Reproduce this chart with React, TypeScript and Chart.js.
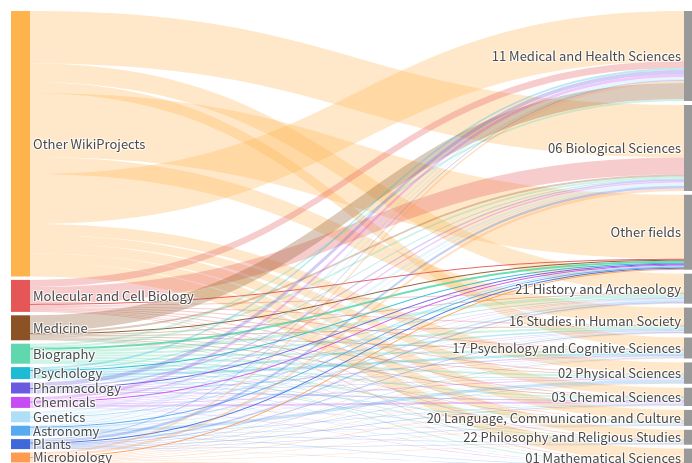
import React, { useEffect, useRef } from "react";
import { Chart, registerables } from "chart.js";

Chart.register(...registerables);

// ---------- data ----------
const SOURCE_LABELS = [
  "Other WikiProjects",
  "Molecular and Cell Biology",
  "Medicine",
  "Biography",
  "Psychology",
  "Pharmacology",
  "Chemicals",
  "Genetics",
  "Astronomy",
  "Plants",
  "Microbiology",
];
const SOURCE_COLORS = [
  "#FFB34D",
  "#E45756",
  "#8B5225",
  "#5ED8AC",
  "#1DBBD6",
  "#6A5ADF",
  "#C84CF3",
  "#AEDFF7",
  "#55AAF0",
  "#3F68DB",
  "#FF9B50",
];
const TARGET_LABELS = [
  "11 Medical and Health Sciences",
  "06 Biological Sciences",
  "Other fields",
  "21 History and Archaeology",
  "16 Studies in Human Society",
  "17 Psychology and Cognitive Sciences",
  "02 Physical Sciences",
  "03 Chemical Sciences",
  "20 Language, Communication and Culture",
  "22 Philosophy and Religious Studies",
  "01 Mathematical Sciences",
];
const TARGET_COLOR = "#999999";

// flow from each source to the targets, in TARGET_LABELS order
const FROM_OTHER_WIKIPROJECTS = [50, 52.5, 64, 18.5, 17, 11, 11, 8.5, 10, 9.5, 13.5];
const FROM_MOLECULAR_CELL_BIOLOGY = [7, 17, 1, 1, 1, 1, 1, 1, 0.7, 0.7, 0.6];
const FROM_MEDICINE = [16, 2, 1, 1, 1, 1, 0.8, 0.8, 0.5, 0.5, 0.4];
const FROM_BIOGRAPHY = [2, 2, 2, 3, 2, 2, 2, 1.5, 1.5, 1, 1];
const FROM_PSYCHOLOGY = [2, 1, 1, 1, 1.5, 2.5, 0.6, 0.6, 0.8, 0.6, 0.4];
const FROM_PHARMACOLOGY = [4, 1.5, 1, 0.5, 0.5, 1, 0.5, 1.2, 0.3, 0.3, 0.2];
const FROM_CHEMICALS = [3, 1.5, 1, 0.5, 0.5, 0.5, 1, 2, 0.3, 0.3, 0.4];
const FROM_GENETICS = [2.5, 3, 1, 1, 0.5, 0.8, 0.5, 0.5, 0.4, 0.4, 0.4];
const FROM_ASTRONOMY = [0.5, 0.5, 1, 1.5, 0.5, 0.3, 3, 0.7, 0.5, 0.7, 0.8];
const FROM_PLANTS = [1, 2.5, 1, 1.5, 1, 0.5, 0.5, 0.7, 0.5, 0.4, 0.4];
const FROM_MICROBIOLOGY = [2, 2.5, 1, 0.5, 0.5, 0.4, 0.5, 0.8, 0.5, 0.5, 0.8];

const FLOW_ROWS = [
  FROM_OTHER_WIKIPROJECTS,
  FROM_MOLECULAR_CELL_BIOLOGY,
  FROM_MEDICINE,
  FROM_BIOGRAPHY,
  FROM_PSYCHOLOGY,
  FROM_PHARMACOLOGY,
  FROM_CHEMICALS,
  FROM_GENETICS,
  FROM_ASTRONOMY,
  FROM_PLANTS,
  FROM_MICROBIOLOGY,
];

// ribbon stacking order at the nodes (layout)
const DEFAULT_TARGET_ORDER = [0, 1, 2, 3, 4, 5, 6, 7, 8, 9, 10];
const OTHER_WIKIPROJECTS_ORDER = [1, 3, 5, 2, 4, 0, 6, 7, 8, 9, 10];
const DEFAULT_SOURCE_ORDER = [0, 1, 2, 3, 4, 5, 6, 7, 8, 9, 10];
const MEDICAL_TARGET_SOURCE_ORDER = [0, 1, 4, 5, 6, 7, 8, 9, 10, 2, 3];

// ---------- layout constants ----------
const W = 692;
const H = 463;
const NODE_THICKNESS = 19;
const PAD_LEFT = 3.4;
const PAD_RIGHT = 3.9;
const Y_MAX = 452;
const PAD_TOP_PX = 11;
const PAD_LEFT_PX = 11;
const AREA_W = W - PAD_LEFT_PX;
const COL0_PX = 20.5;
const COL1_PX = 693.5;
const X_RANGE = AREA_W / (COL1_PX - COL0_PX);
const X_MIN = -((COL0_PX - PAD_LEFT_PX) / AREA_W) * X_RANGE;
const X_MAX = X_MIN + X_RANGE;

// ---------- derived sankey layout (value units) ----------
const sourceTotals = FLOW_ROWS.map((r) => r.reduce((a, b) => a + b, 0));
const targetTotals = TARGET_LABELS.map((_, j) =>
  FLOW_ROWS.reduce((a, r) => a + r[j], 0)
);
const stackTops = (totals: number[], pad: number) => {
  const out: number[] = [];
  let acc = 0;
  totals.forEach((t) => {
    out.push(acc);
    acc += t + pad;
  });
  return out;
};
const sourceTops = stackTops(sourceTotals, PAD_LEFT);
const targetTops = stackTops(targetTotals, PAD_RIGHT);

type Link = { s: number; t: number; v: number; s0: number; t0: number };
const buildLinks = (): Link[] => {
  const sOff: Record<string, number> = {};
  FLOW_ROWS.forEach((row, i) => {
    let acc = sourceTops[i];
    const order = i === 0 ? OTHER_WIKIPROJECTS_ORDER : DEFAULT_TARGET_ORDER;
    order.forEach((j) => {
      sOff[i + "_" + j] = acc;
      acc += row[j];
    });
  });
  const tOff: Record<string, number> = {};
  TARGET_LABELS.forEach((_, j) => {
    let acc = targetTops[j];
    const order = j === 0 ? MEDICAL_TARGET_SOURCE_ORDER : DEFAULT_SOURCE_ORDER;
    order.forEach((i) => {
      tOff[i + "_" + j] = acc;
      acc += FLOW_ROWS[i][j];
    });
  });
  const links: Link[] = [];
  FLOW_ROWS.forEach((row, i) => {
    row.forEach((v, j) => {
      links.push({ s: i, t: j, v, s0: sOff[i + "_" + j], t0: tOff[i + "_" + j] });
    });
  });
  return links;
};
const LINKS = buildLinks();

const rgba = (hex: string, a: number) => {
  const n = parseInt(hex.slice(1), 16);
  return `rgba(${(n >> 16) & 255},${(n >> 8) & 255},${n & 255},${a})`;
};

const FONT = '13px "Noto Sans CJK SC", "Open Sans", sans-serif';
const TEXT_COLOR = "#4a4a4a";

const drawLabel = (ctx: CanvasRenderingContext2D, text: string, x: number, y: number, align: CanvasTextAlign) => {
  ctx.textAlign = align;
  ctx.textBaseline = "middle";
  ctx.font = FONT;
  ctx.fillStyle = "rgba(255,255,255,0.75)";
  for (const [dx, dy] of [[1, 1], [1, -1], [-1, 1], [-1, -1]]) {
    ctx.fillText(text, x + dx, y + dy);
  }
  ctx.fillStyle = TEXT_COLOR;
  ctx.fillText(text, x, y);
};

const sankeyPlugin = {
  id: "sankeyLinks",
  beforeDatasetsDraw(chart: any) {
    const { ctx, scales } = chart;
    const x = scales.x;
    const y = scales.y;
    const xs = x.getPixelForValue(0) + NODE_THICKNESS / 2;
    const xt = x.getPixelForValue(1) - NODE_THICKNESS / 2;
    const xm = (xs + xt) / 2;
    ctx.save();
    for (const l of LINKS) {
      const a0 = y.getPixelForValue(l.s0);
      const a1 = y.getPixelForValue(l.s0 + l.v);
      const b0 = y.getPixelForValue(l.t0);
      const b1 = y.getPixelForValue(l.t0 + l.v);
      ctx.beginPath();
      ctx.moveTo(xs, a0);
      ctx.bezierCurveTo(xm, a0, xm, b0, xt, b0);
      ctx.lineTo(xt, b1);
      ctx.bezierCurveTo(xm, b1, xm, a1, xs, a1);
      ctx.closePath();
      const vivid = l.t === 2 && l.s !== 0;
      ctx.fillStyle = rgba(SOURCE_COLORS[l.s], vivid ? 0.9 : 0.3);
      ctx.fill();
    }
    ctx.restore();
  },
  afterDatasetsDraw(chart: any) {
    const { ctx, scales } = chart;
    const x = scales.x;
    const y = scales.y;
    const xs = x.getPixelForValue(0) + NODE_THICKNESS / 2;
    const xt = x.getPixelForValue(1) - NODE_THICKNESS / 2;
    ctx.save();
    SOURCE_LABELS.forEach((lab, i) => {
      const cy = y.getPixelForValue(sourceTops[i] + sourceTotals[i] / 2);
      drawLabel(ctx, lab, xs + 3, cy, "left");
    });
    TARGET_LABELS.forEach((lab, j) => {
      const cy = y.getPixelForValue(targetTops[j] + targetTotals[j] / 2);
      drawLabel(ctx, lab, xt - 3, cy, "right");
    });
    ctx.restore();
  },
};

export default function App() {
  const ref = useRef<HTMLCanvasElement | null>(null);
  useEffect(() => {
    if (!ref.current) return;
    const nodeData = [
      ...SOURCE_LABELS.map((_, i) => ({ x: 0, y: [sourceTops[i], sourceTops[i] + sourceTotals[i]] })),
      ...TARGET_LABELS.map((_, j) => ({ x: 1, y: [targetTops[j], targetTops[j] + targetTotals[j]] })),
    ];
    const nodeColors = [...SOURCE_COLORS, ...TARGET_LABELS.map(() => TARGET_COLOR)];
    const chart = new Chart(ref.current, {
      type: "bar",
      data: {
        datasets: [
          {
            data: nodeData as any,
            backgroundColor: nodeColors,
            borderWidth: 0,
            barThickness: NODE_THICKNESS,
            inflateAmount: 0,
          } as any,
        ],
      },
      options: {
        animation: false,
        responsive: false,
        devicePixelRatio: 1,
        layout: { padding: { top: PAD_TOP_PX, left: PAD_LEFT_PX, right: 0, bottom: 0 } },
        scales: {
          x: { type: "linear", offset: false, min: X_MIN, max: X_MAX, display: false },
          y: { type: "linear", min: 0, max: Y_MAX, reverse: true, display: false },
        },
        plugins: {
          legend: { display: false },
          tooltip: { enabled: false },
        },
      },
      plugins: [sankeyPlugin],
    });
    return () => chart.destroy();
  }, []);
  return (
    <div style={{ position: "fixed", left: 0, top: 0, width: W, height: H, background: "#fff" }}>
      <canvas ref={ref} width={W} height={H} style={{ display: "block" }} />
    </div>
  );
}
